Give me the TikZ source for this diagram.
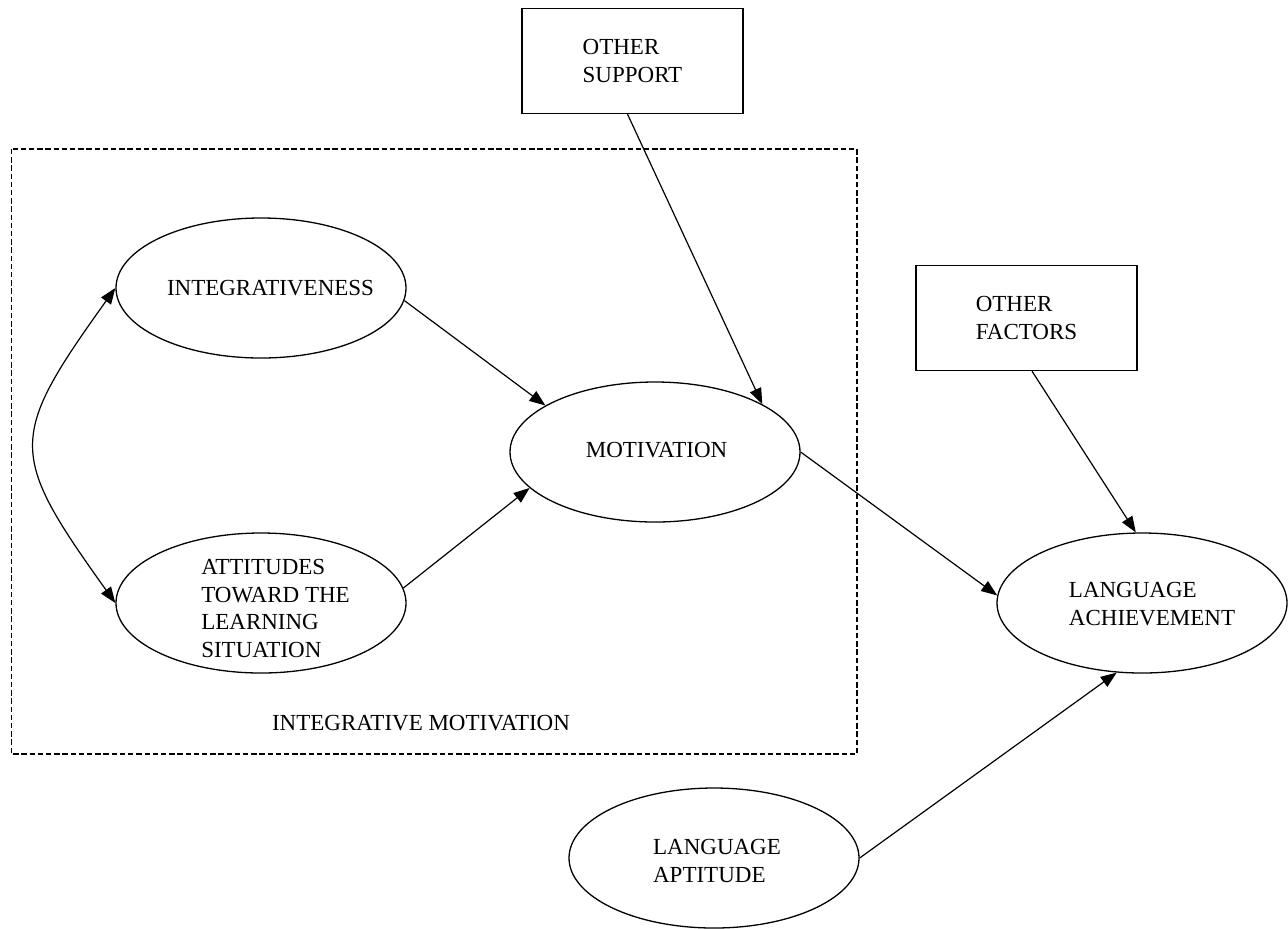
\documentclass[tikz,border=0pt]{standalone}
\usepackage{fontspec}
\setmainfont{Liberation Serif}
\usetikzlibrary{arrows.meta,shapes.geometric}

\begin{document}
\begin{tikzpicture}[x=0.5pt, y=-0.5pt, >={Triangle[length=8pt,width=6pt]},
  every node/.style={font=\fontsize{11.5}{13.8}\selectfont},
  oval/.style={draw, ellipse, line width=0.65pt, minimum width=145pt, minimum height=70pt, inner sep=0pt},
  factorbox/.style={draw, rectangle, line width=0.65pt, minimum width=110.5pt, minimum height=52.5pt, align=left},
  txt/.style={align=left, inner sep=0pt},
  link/.style={->, line width=0.6pt}]
  \useasboundingbox (0,0) rectangle (1288,928);

  % ---- Dashed frame: integrative motivation ----
  \draw[dash pattern=on 2.7pt off 1.4pt, line width=0.75pt] (11.5,149) rectangle (857,754);
  \node[txt] (imlbl) at (421,723) {INTEGRATIVE MOTIVATION};

  % ---- Ellipses ----
  \node[oval] (int) at (261,288) {};
  \node[txt] (intlbl) at (270.5,288) {INTEGRATIVENESS};
  \node[oval] (att) at (261,603) {};
  \node[txt] (attlbl) at (275.5,608.5) {ATTITUDES\\TOWARD THE\\LEARNING\\SITUATION};
  \node[oval] (mot) at (655,452) {};
  \node[txt] (motlbl) at (656.5,450) {MOTIVATION};
  \node[oval] (ach) at (1142,603) {};
  \node[txt] (achlbl) at (1152,604) {LANGUAGE\\ACHIEVEMENT};
  \node[oval] (apt) at (714,858) {};
  \node[txt] (aptlbl) at (717,861) {LANGUAGE\\APTITUDE};

  % ---- Boxes ----
  \node[factorbox] (sup) at (632.5,61) {OTHER\\SUPPORT};
  \node[factorbox] (oth) at (1026.5,318) {OTHER\\FACTORS};

  % ---- Arrows ----
  \draw[link] (int.-5) -- (mot.157);
  \draw[link] (att.6) -- (mot.196);
  \draw[link] ([xshift=-2.5pt]sup.south) -- (mot.24);
  \draw[link] (mot.east) -- (ach.177);
  \draw[link] ([xshift=2.75pt]oth.south) -- (ach.95);
  \draw[link] (apt.east) -- (ach.250);
  \draw[<->, line width=0.6pt] (int.west) .. controls (8,438) and (8,453) .. (att.west);
\end{tikzpicture}
\end{document}
